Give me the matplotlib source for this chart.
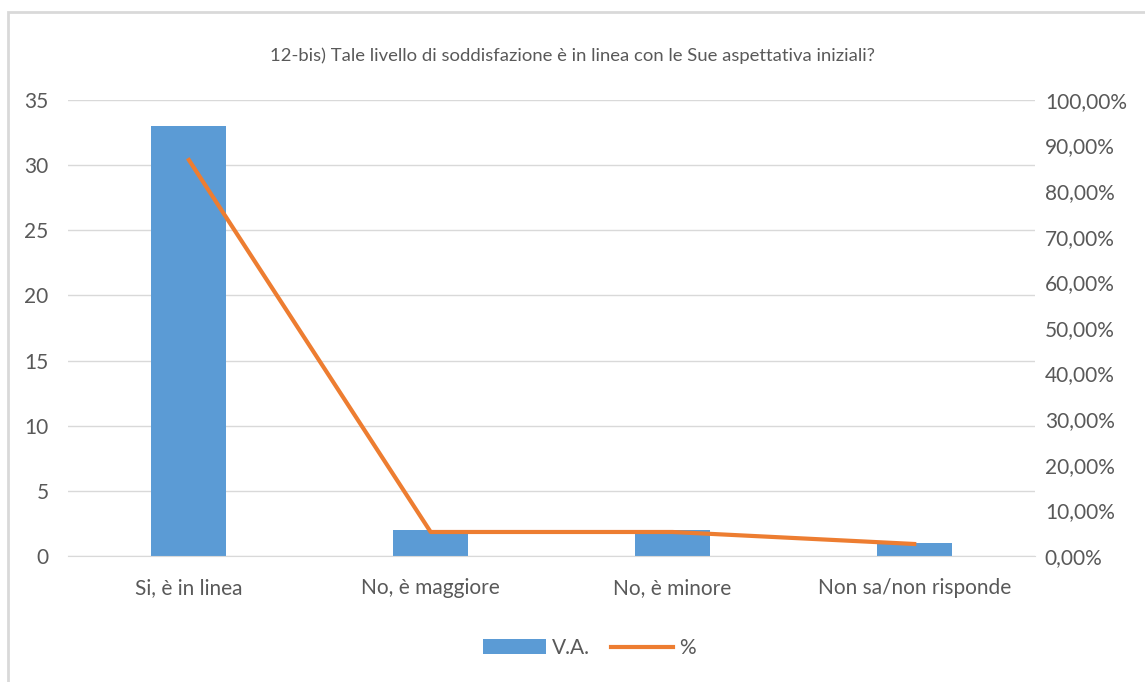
import matplotlib.pyplot as plt
from matplotlib.patches import Rectangle
from matplotlib.ticker import FuncFormatter

# data
categories = ["Si, è in linea", "No, è maggiore", "No, è minore", "Non sa/non risponde"]
va = [33, 2, 2, 1]
perc = [86.84, 5.26, 5.26, 2.63]

blue = "#5B9BD5"
orange = "#ED7D31"
grey = "#595959"

plt.rcParams['font.family'] = ['Lato', 'DejaVu Sans']

fig = plt.figure(figsize=(11.45, 6.82), dpi=100)
ax = fig.add_axes([0.0594, 0.1848, 0.8446, 0.6686])
ax2 = ax.twinx()

x = list(range(len(categories)))
bars = ax.bar(x, va, width=0.31, color=blue, label="V.A.", zorder=2)
line, = ax2.plot(x, perc, color=orange, linewidth=3, label="%", zorder=3)

ax.set_xlim(-0.5, 3.5)
ax.set_ylim(0, 35)
ax.set_yticks(range(0, 36, 5))
ax2.set_ylim(0, 100)
ax2.set_yticks(range(0, 101, 10))
ax2.yaxis.set_major_formatter(FuncFormatter(lambda v, p: f"{v:.2f}%".replace(".", ",")))

ax.set_xticks(x)
ax.set_xticklabels(categories)
ax.grid(axis="y", color="#D9D9D9", linewidth=1, zorder=0)
ax.set_axisbelow(True)

for a in (ax, ax2):
    for s in a.spines.values():
        s.set_visible(False)
    a.tick_params(length=0, colors=grey, labelsize=15)
ax.spines["bottom"].set_visible(True)
ax.spines["bottom"].set_color("#D9D9D9")
ax.tick_params(axis="x", pad=16)
ax.tick_params(axis="y", pad=14)
ax2.tick_params(axis="y", pad=7)

fig.text(0.5, 0.918, "12-bis) Tale livello di soddisfazione è in linea con le Sue aspettativa iniziali?",
         ha="center", va="center", fontsize=13.3, color=grey)

fig.legend([bars, line], ["V.A.", "%"], loc="center", bbox_to_anchor=(0.515, 0.05), ncol=2,
           frameon=False, fontsize=15, labelcolor=grey, handlelength=3, columnspacing=1.0,
           handletextpad=0.3)

fig.patches.append(Rectangle((8 / 1145, -0.01), 1.2, 1 - 12 / 682 + 0.01,
                             transform=fig.transFigure, fill=False,
                             edgecolor="#D9D9D9", linewidth=2))

fig.savefig("out.png", dpi=100)
